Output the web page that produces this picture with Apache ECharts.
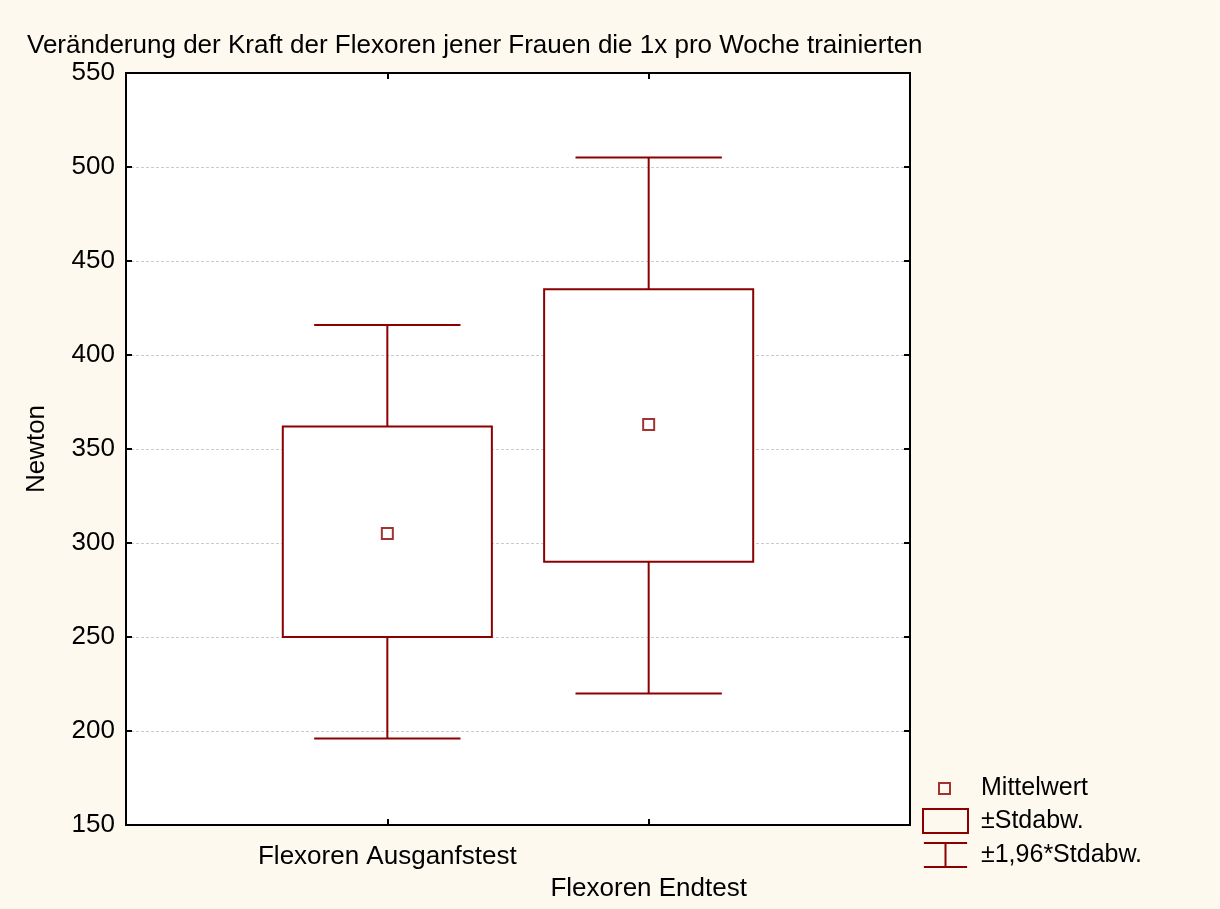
<!DOCTYPE html>
<html>
<head>
<meta charset="utf-8">
<script src="https://cdn.jsdelivr.net/npm/echarts@6/dist/echarts.min.js"></script>
<style>
  html, body { margin: 0; padding: 0; background: #fdf9ef; }
  #chart { width: 1220px; height: 909px; }
</style>
</head>
<body>
<div id="chart"></div>
<script>
// data
const categories = ["Flexoren Ausganfstest", "Flexoren Endtest"];
const means = [305, 363];
const sdLow = [250, 290];
const sdHigh = [362, 435];
const ciLow = [196, 220];
const ciHigh = [416, 505];
const yTicks = [150, 200, 250, 300, 350, 400, 450, 500, 550];

const RED = "#8b0000";
const FONT = "Liberation Sans, Arial, Helvetica, sans-serif";

const chart = echarts.init(document.getElementById("chart"));

const boxData = categories.map((c, i) => [i + 1, sdLow[i], sdHigh[i]]);
const whiskerData = categories.map((c, i) => [i + 1, ciLow[i], ciHigh[i], sdLow[i], sdHigh[i]]);
const meanData = categories.map((c, i) => [i + 1, means[i]]);

const option = {
  backgroundColor: "#fdf9ef",
  animation: false,
  textStyle: { fontFamily: FONT },
  title: {
    text: "Veränderung der Kraft der Flexoren jener Frauen die 1x pro Woche trainierten",
    left: 22,
    top: 28,
    textStyle: { fontFamily: FONT, fontSize: 26, fontWeight: "normal", color: "#000" },
  },
  grid: {
    left: 126,
    right: 310,
    top: 73,
    bottom: 84,
    show: true,
    backgroundColor: "#fff",
    borderColor: "#000",
    borderWidth: 2,
  },
  legend: [
    {
      data: [{ name: "Mittelwert", icon: "rect",
        itemStyle: { color: "transparent", borderColor: RED, borderWidth: 2 } }],
      left: 938,
      top: 776,
      padding: 0,
      itemWidth: 11,
      itemHeight: 11,
      selectedMode: false,
      textStyle: { fontFamily: FONT, fontSize: 25, color: "#000", padding: [0, 0, 0, 26] },
    },
    {
      data: [
        { name: "±Stdabw.", icon: "rect",
          itemStyle: { color: "transparent", borderColor: RED, borderWidth: 2 } },
        { name: "±1,96*Stdabw.", icon: "path://M0,0H45M0,25H45M22.5,0V25",
          itemStyle: { color: "transparent", borderColor: RED, borderWidth: 2 } },
      ],
      orient: "vertical",
      left: 922,
      top: 808,
      padding: 0,
      itemWidth: 45,
      itemHeight: 24,
      itemGap: 8,
      selectedMode: false,
      textStyle: { fontFamily: FONT, fontSize: 25, color: "#000", padding: [0, 0, 0, 8] },
    },
  ],
  xAxis: [
    {
      type: "value",
      min: 0,
      max: 3,
      interval: 1,
      axisLine: { show: true, onZero: false, lineStyle: { color: "#000", width: 2 } },
      axisTick: { show: true, inside: true, length: 6, lineStyle: { color: "#000", width: 2 } },
      splitLine: { show: false },
      axisLabel: {
        color: "#000",
        fontSize: 26,
        margin: 16,
        lineHeight: 32,
        formatter: (v) => (v === 1 ? categories[0] : v === 2 ? "\n" + categories[1] : ""),
      },
    },
    {
      type: "value",
      position: "top",
      min: 0,
      max: 3,
      interval: 1,
      axisLine: { show: true, onZero: false, lineStyle: { color: "#000", width: 2 } },
      axisTick: { show: true, inside: true, length: 6, lineStyle: { color: "#000", width: 2 } },
      splitLine: { show: false },
      axisLabel: { show: false },
    },
  ],
  yAxis: [
    {
      type: "value",
      min: yTicks[0],
      max: yTicks[yTicks.length - 1],
      interval: 50,
      name: "Newton",
      nameLocation: "middle",
      nameRotate: 90,
      nameGap: 76,
      nameTextStyle: { fontFamily: FONT, fontSize: 26, color: "#000" },
      axisLine: { show: true, onZero: false, lineStyle: { color: "#000", width: 2 } },
      axisTick: { show: true, inside: true, length: 6, lineStyle: { color: "#000", width: 2 } },
      axisLabel: { color: "#000", fontSize: 26, margin: 11 },
      splitLine: { show: true, lineStyle: { color: "#cccccc", type: [3, 2], width: 1 } },
    },
    {
      type: "value",
      position: "right",
      min: yTicks[0],
      max: yTicks[yTicks.length - 1],
      interval: 50,
      axisLine: { show: true, onZero: false, lineStyle: { color: "#000", width: 2 } },
      axisTick: { show: true, inside: true, length: 6, lineStyle: { color: "#000", width: 2 } },
      axisLabel: { show: false },
      splitLine: { show: false },
    },
  ],
  series: [
    {
      name: "±1,96*Stdabw.",
      type: "custom",
      data: whiskerData,
      encode: { x: 0, y: [1, 2] },
      renderItem: (params, api) => {
        const x = api.value(0);
        const top = api.coord([x, api.value(2)]);
        const bot = api.coord([x, api.value(1)]);
        const bTop = api.coord([x, api.value(4)]);
        const bBot = api.coord([x, api.value(3)]);
        const half = api.size([0.56, 0])[0] / 2;
        const st = { stroke: RED, lineWidth: 2 };
        return {
          type: "group",
          children: [
            { type: "line", shape: { x1: top[0] - half, y1: top[1], x2: top[0] + half, y2: top[1] }, style: st },
            { type: "line", shape: { x1: top[0], y1: top[1], x2: bTop[0], y2: bTop[1] }, style: st },
            { type: "line", shape: { x1: bBot[0], y1: bBot[1], x2: bot[0], y2: bot[1] }, style: st },
            { type: "line", shape: { x1: bot[0] - half, y1: bot[1], x2: bot[0] + half, y2: bot[1] }, style: st },
          ],
        };
      },
    },
    {
      name: "±Stdabw.",
      type: "custom",
      data: boxData,
      encode: { x: 0, y: [1, 2] },
      renderItem: (params, api) => {
        const x = api.value(0);
        const hi = api.coord([x, api.value(2)]);
        const lo = api.coord([x, api.value(1)]);
        const w = api.size([0.8, 0])[0];
        return {
          type: "rect",
          shape: { x: hi[0] - w / 2, y: hi[1], width: w, height: lo[1] - hi[1] },
          style: { fill: "#fff", stroke: RED, lineWidth: 2 },
        };
      },
    },
    {
      name: "Mittelwert",
      type: "scatter",
      data: meanData,
      symbol: "rect",
      symbolSize: 11,
      itemStyle: { color: "#fff", borderColor: RED, borderWidth: 2 },
      z: 5,
    },
  ],
};

chart.setOption(option);
</script>
</body>
</html>
